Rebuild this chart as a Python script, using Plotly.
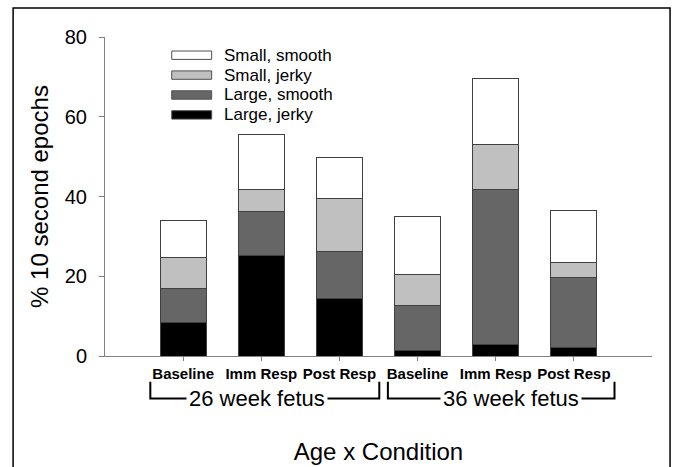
import plotly.graph_objects as go

conditions = ["Baseline", "Imm Resp", "Post Resp", "Baseline", "Imm Resp", "Post Resp"]
positions = [0, 1, 2, 3, 4, 5]
large_jerky = [8.5, 25.2, 14.5, 1.3, 2.9, 2.2]
large_smooth = [8.5, 11.1, 11.7, 11.3, 38.9, 17.4]
small_jerky = [7.8, 5.5, 13.3, 7.8, 11.2, 3.9]
small_smooth = [9.2, 13.8, 10.4, 14.5, 16.6, 13.1]

series_names = ["Large, jerky", "Large, smooth", "Small, jerky", "Small, smooth"]
series_values = [large_jerky, large_smooth, small_jerky, small_smooth]
series_colors = ["#000000", "#666666", "#c0c0c0", "#ffffff"]

groups = ["26 week fetus", "36 week fetus"]
group_spans = [(-0.42, 2.51), (2.62, 5.52)]
group_text_x = [0.94, 4.2]

FONT = "Arial, Liberation Sans, sans-serif"

fig = go.Figure()
for name, vals, col in zip(series_names, series_values, series_colors):
    fig.add_trace(go.Bar(
        x=positions, y=vals, name=name, width=0.59, showlegend=False,
        marker=dict(color=col, line=dict(color="#404040", width=1)),
    ))

fig.update_layout(
    barmode="stack",
    width=674, height=467,
    margin=dict(l=105, r=22, t=37, b=111),
    paper_bgcolor="white", plot_bgcolor="white",
    font=dict(family=FONT, color="black"),
    showlegend=False,
)

fig.update_xaxes(
    range=[-1, 6], tickmode="array", tickvals=positions, ticktext=conditions,
    showline=True, linecolor="#808080", linewidth=1,
    ticks="outside", ticklen=4, tickcolor="#808080",
    tickfont=dict(size=15, family=FONT, weight="bold"),
    showgrid=False, zeroline=False, automargin=False,
    title=dict(text="Age x Condition", font=dict(size=24), standoff=62),
)
fig.update_yaxes(
    range=[0, 80], tickvals=[0, 20, 40, 60, 80],
    showline=True, linecolor="#808080", linewidth=1,
    ticks="outside", ticklen=5, tickcolor="#808080",
    tickfont=dict(size=20), ticklabelstandoff=8,
    showgrid=False, zeroline=False, automargin=False,
    title=dict(text="% 10 second epochs", font=dict(size=24), standoff=9),
)

# legend (top entry first, like the reference)
PH = 319.0  # plot height in px, used to convert legend spacing
for i, idx in enumerate(reversed(range(len(series_names)))):
    cy = (356 - (55.2 + 19.9 * i)) / PH
    hh = 4.2 / PH
    fig.add_shape(type="rect", xref="paper", yref="paper",
                  x0=0.122, x1=0.195, y0=cy - hh, y1=cy + hh,
                  fillcolor=series_colors[idx],
                  line=dict(color="#505050", width=1))
    fig.add_annotation(x=0.213, y=cy, xref="paper", yref="paper",
                       text=series_names[idx], showarrow=False,
                       xanchor="left", yanchor="middle", font=dict(size=17))

# group brackets
for (x0, x1), label, tx in zip(group_spans, groups, group_text_x):
    fig.add_shape(type="path", xref="x", yref="paper",
                  path=f"M {x0},-0.081 L {x0},-0.133 L {x1},-0.133 L {x1},-0.081",
                  line=dict(color="black", width=2))
    fig.add_annotation(x=tx, y=-0.133, xref="x", yref="paper", text=label,
                       showarrow=False, font=dict(size=22), bgcolor="white",
                       borderpad=2, xanchor="center", yanchor="middle")

# figure frame
fig.add_shape(type="rect", xref="paper", yref="paper",
              x0=-0.168, x1=1.033, y0=-0.6, y1=1.091,
              line=dict(color="black", width=1.5), layer="below")

fig.write_html("out.html", config={"displayModeBar": False},
               post_script="document.body.style.margin='0';document.body.style.overflow='hidden';")
